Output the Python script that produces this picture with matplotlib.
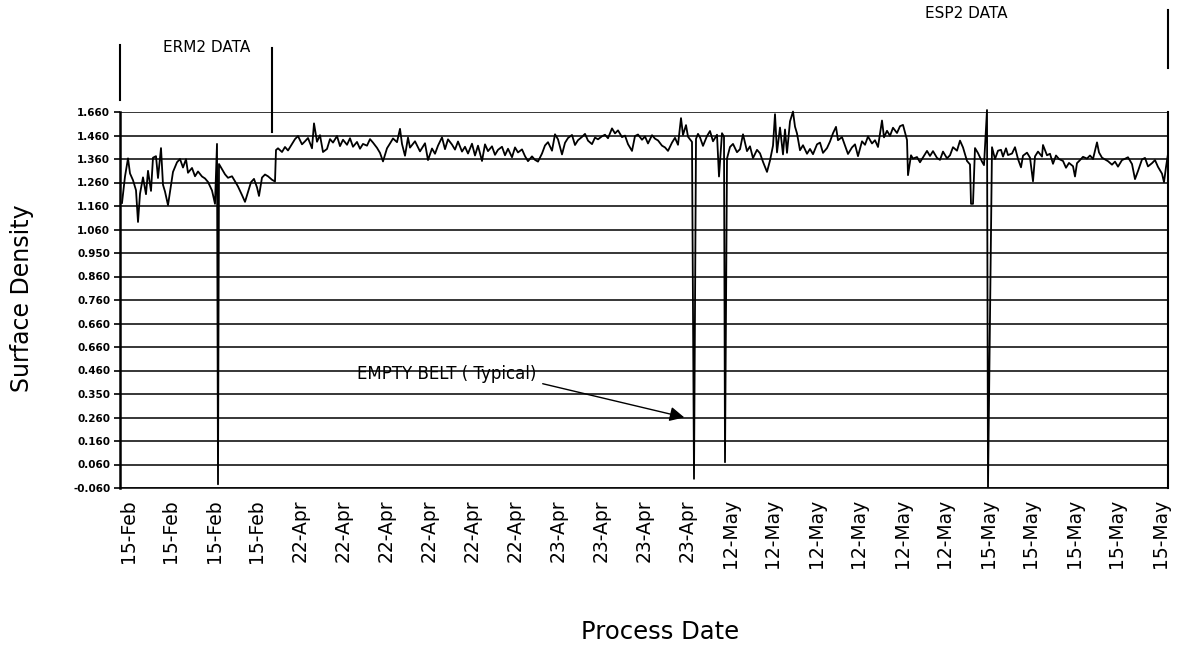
import numpy as np
import matplotlib.pyplot as plt

# belt record: sample number and surface density read at it
sample = [
    -6, -3, 0, 2, 5, 8, 10, 12, 15, 18, 20, 23, 25, 28, 30, 33, 35, 37, 40, 43,
    45, 49, 52, 55, 58, 60, 64, 67, 70, 74, 77, 80, 84, 87, 89, 90, 91, 94, 97, 100,
    104, 107, 110, 114, 117, 120, 123, 126, 129, 131, 134, 137, 140, 144, 147, 148, 150, 154, 157, 160,
    164, 167, 170, 174, 177, 180, 184, 186, 189, 192, 195, 199, 202, 205, 209, 212, 215, 219, 222, 225,
    229, 232, 235, 239, 242, 245, 249, 252, 255, 259, 262, 265, 269, 272, 274, 277, 280,
    282, 287, 292, 297, 300, 304, 307, 310, 314, 317, 320, 324, 327, 330, 334, 337, 340, 344, 347,
    350, 354, 357, 360, 364, 367, 370, 374, 377, 380, 384, 387, 390, 394, 397, 400, 404, 407, 410, 414,
    417, 420, 424, 427, 430, 434, 437, 440, 444, 447, 450, 454, 457, 460, 464, 467, 470, 474, 477, 480,
    484, 487, 490, 494, 497, 500, 504, 507, 510, 514, 517, 520, 524, 527, 530, 534, 537, 540, 544, 547,
    550, 553, 555, 558, 560, 564, 566, 568, 570,
    572, 575, 579, 582, 585, 589, 591, 594, 596, 597, 599, 602, 605, 609, 612, 615, 619, 622, 625, 629,
    632, 635, 639, 642, 645, 647, 649, 652, 655, 657, 659, 662, 665, 667, 669, 672, 675, 679, 682, 685,
    689, 692, 695, 699, 702, 705, 708, 710, 714, 717, 720, 724, 727, 730, 734, 737, 740, 744, 747, 750,
    754, 756, 759, 762, 765, 769, 772, 775, 779, 780, 783, 785, 789, 792, 795, 799, 802, 805, 809, 812,
    815, 819, 822, 825, 829, 832, 835, 839, 842, 843, 845, 847, 850, 854, 856, 859, 860, 864, 867, 870,
    873, 875, 878, 880, 884, 887, 890, 893, 895, 899, 902, 905, 907, 910, 914, 915, 919, 922, 925, 928,
    931, 935, 938, 941, 945, 947, 949, 952, 955, 959, 962, 965, 969, 971, 974, 977, 980, 984, 987, 990,
    994, 997, 1000, 1004, 1007, 1010, 1014, 1017, 1020, 1024, 1027, 1030, 1034, 1036, 1038, 1040,
]
density = [
    1.244, 1.365, 1.448, 1.379, 1.348, 1.302, 1.157, 1.286, 1.361, 1.284, 1.391, 1.299, 1.451, 1.458, 1.358, 1.495, 1.327, 1.296, 1.234, 1.325,
    1.386, 1.430, 1.445, 1.406, 1.444, 1.382, 1.404, 1.366, 1.388, 1.365, 1.356, 1.340, 1.301, 1.240, 1.514, -0.043, 1.422, 1.398, 1.375, 1.359,
    1.366, 1.343, 1.319, 1.280, 1.249, 1.294, 1.339, 1.354, 1.315, 1.276, 1.360, 1.374, 1.366, 1.350, 1.342, 1.486, 1.494, 1.477, 1.500, 1.484,
    1.514, 1.536, 1.550, 1.512, 1.526, 1.541, 1.494, 1.608, 1.524, 1.554, 1.477, 1.491, 1.536, 1.520, 1.550, 1.504, 1.533, 1.510, 1.540, 1.501,
    1.523, 1.492, 1.514, 1.506, 1.536, 1.520, 1.496, 1.473, 1.434, 1.494, 1.516, 1.539, 1.522, 1.583, 1.514, 1.460, 1.543,
    1.497, 1.526, 1.480, 1.517, 1.440, 1.493, 1.469, 1.506, 1.544, 1.490, 1.535, 1.511, 1.488, 1.525, 1.479, 1.501, 1.470, 1.515, 1.461,
    1.506, 1.436, 1.512, 1.481, 1.503, 1.464, 1.487, 1.501, 1.462, 1.492, 1.453, 1.498, 1.475, 1.489, 1.458, 1.435, 1.457, 1.441, 1.433, 1.470,
    1.507, 1.522, 1.483, 1.558, 1.535, 1.466, 1.519, 1.541, 1.555, 1.509, 1.531, 1.546, 1.560, 1.529, 1.513, 1.543, 1.535, 1.549, 1.556, 1.540,
    1.585, 1.562, 1.576, 1.545, 1.552, 1.513, 1.482, 1.550, 1.557, 1.533, 1.548, 1.516, 1.554, 1.538, 1.530, 1.506, 1.498, 1.482, 1.520, 1.542,
    1.510, 1.632, 1.555, 1.600, 1.547, 1.523, -0.018, 1.537, 1.560,
    1.544, 1.505, 1.550, 1.573, 1.526, 1.556, 1.365, 1.563, 1.547, 0.058, 1.447, 1.500, 1.514, 1.476, 1.490, 1.558, 1.481, 1.503, 1.449, 1.487,
    1.471, 1.432, 1.386, 1.438, 1.506, 1.650, 1.475, 1.589, 1.466, 1.580, 1.473, 1.617, 1.662, 1.593, 1.562, 1.485, 1.508, 1.469, 1.491, 1.467,
    1.512, 1.520, 1.473, 1.495, 1.525, 1.563, 1.592, 1.531, 1.545, 1.507, 1.468, 1.498, 1.512, 1.458, 1.526, 1.510, 1.548, 1.516, 1.531, 1.500,
    1.621, 1.544, 1.574, 1.551, 1.588, 1.564, 1.595, 1.601, 1.532, 1.371, 1.462, 1.447, 1.454, 1.430, 1.452, 1.482, 1.459, 1.481, 1.450, 1.441,
    1.479, 1.448, 1.462, 1.499, 1.483, 1.529, 1.498, 1.436, 1.420, 1.240, 1.240, 1.495, 1.472, 1.433, 1.417, 1.669, -0.055, 1.499, 1.445, 1.483,
    1.487, 1.456, 1.494, 1.463, 1.470, 1.499, 1.445, 1.407, 1.460, 1.474, 1.451, 1.343, 1.457, 1.479, 1.456, 1.509, 1.462, 1.469, 1.423, 1.461,
    1.445, 1.436, 1.405, 1.427, 1.412, 1.365, 1.426, 1.440, 1.455, 1.447, 1.461, 1.445, 1.521, 1.475, 1.451, 1.443, 1.435, 1.419, 1.433, 1.410,
    1.440, 1.446, 1.453, 1.422, 1.353, 1.390, 1.443, 1.450, 1.411, 1.426, 1.440, 1.409, 1.378, 1.339, 1.408, 1.468,
]

# one date label every 43 samples
date_labels = [
    '15-Feb', '15-Feb', '15-Feb', '15-Feb',
    '22-Apr', '22-Apr', '22-Apr', '22-Apr', '22-Apr', '22-Apr',
    '23-Apr', '23-Apr', '23-Apr', '23-Apr',
    '12-May', '12-May', '12-May', '12-May', '12-May', '12-May',
    '15-May', '15-May', '15-May', '15-May', '15-May',
]
# printed axis labels, bottom to top
density_labels = [
    '-0.060', '0.060', '0.160', '0.260', '0.350', '0.460', '0.660', '0.660', '0.760',
    '0.860', '0.950', '1.060', '1.160', '1.260', '1.360', '1.460', '1.660',
]

# where the data sections start / end
erm2_start, erm2_end, esp2_end = -8, 144, 1040


fig = plt.figure(figsize=(11.96, 6.48), dpi=100)
ax = fig.add_axes([120 / 1196, 1 - 488 / 648, 1048 / 1196, 376 / 648])

yt = np.linspace(-0.06, 1.66, len(density_labels))
for y in yt:
    ax.axhline(y, color='black', lw=1.1, zorder=1)

ax.plot(sample, density, color='black', lw=1.3, clip_on=False, zorder=3)

ax.set_xlim(-8, 1040)
ax.set_ylim(-0.06, 1.66)
ax.set_yticks(yt)
ax.set_yticklabels(density_labels, fontsize=7.5, fontweight='bold')
ax.set_xticks(np.arange(len(date_labels)) * 43)
ax.set_xticklabels(date_labels, rotation=90, fontsize=13.5)
ax.tick_params(axis='x', length=0, pad=8)
ax.tick_params(axis='y', length=4, width=1.2, pad=3)

ax.spines['top'].set_visible(False)
ax.spines['left'].set_linewidth(1.8)
ax.spines['right'].set_linewidth(1.5)
ax.spines['bottom'].set_linewidth(1.1)

# section markers above the plot
trans = ax.get_xaxis_transform()
ax.plot([erm2_start, erm2_start], [1.178, 1.032], transform=trans, clip_on=False, color='black', lw=1.5)
ax.plot([erm2_end, erm2_end], [1.17, 0.947], transform=trans, clip_on=False, color='black', lw=1.5)
ax.plot([esp2_end, esp2_end], [1.271, 1.117], transform=trans, clip_on=False, color='black', lw=1.5)

fig.text(163 / 1196, 1 - 47 / 648, 'ERM2 DATA', fontsize=11, va='center')
fig.text(925 / 1196, 1 - 14 / 648, 'ESP2 DATA', fontsize=11, va='center')

ax.text(229, 0.46, 'EMPTY BELT ( Typical)', fontsize=12, va='center')
ax.annotate('', xy=(559, 0.26), xytext=(412, 0.42),
            arrowprops=dict(arrowstyle='-|>', color='black', lw=1.0, mutation_scale=22))

fig.text(22 / 1196, 1 - 298 / 648, 'Surface Density', rotation=90, fontsize=17, ha='center', va='center')
fig.text(660 / 1196, 1 - 632 / 648, 'Process Date', fontsize=17.5, ha='center', va='center')

fig.savefig('out.png', dpi=100)
